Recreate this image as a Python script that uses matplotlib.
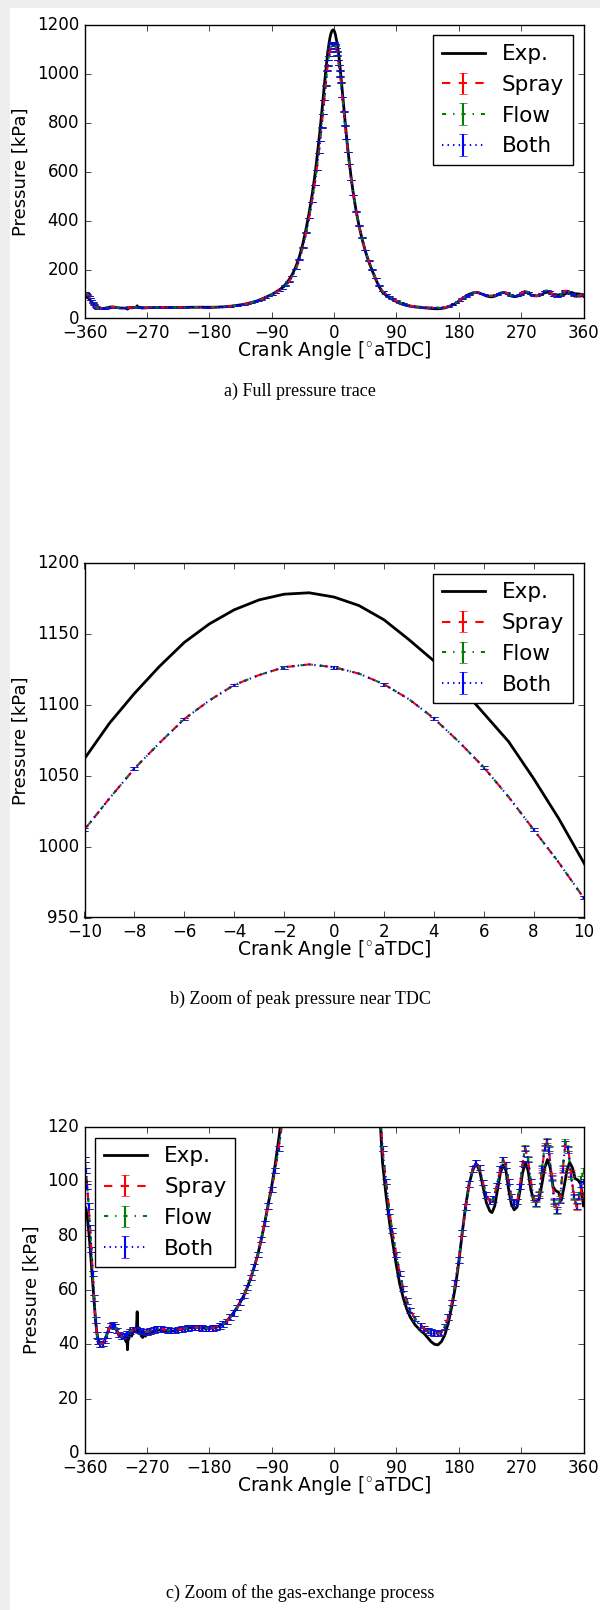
import matplotlib
matplotlib.use("Agg")
import matplotlib.pyplot as plt
from matplotlib.patches import Rectangle

# =========================
# DATA
# =========================
# simulation grid [deg aTDC]
angle_sim = [
    -360, -358, -356, -354, -352, -350, -348, -346, -344, -342, -340,
    -337, -334, -331, -328, -325, -322, -319, -316, -313, -310, -306, -302, -298, -294, -290,
    -285, -280, -275, -270, -265, -260, -255, -250, -245, -240, -235, -230, -225,
    -220, -215, -210, -205, -200, -195, -190, -185, -180, -175, -170, -165, -160,
    -155, -150, -145, -140, -135, -130, -125, -120, -115, -110, -105, -100,
    -95, -90, -85, -80, -75, -70, -65, -60, -55, -50, -45, -40,
    -36, -32, -28, -25, -22, -20, -18, -16, -14, -12,
    -10, -9, -8, -7, -6, -5, -4, -3, -2, -1, 0, 1, 2, 3, 4, 5, 6, 7, 8, 9, 10,
    12, 14, 16, 18, 20, 22, 25, 28, 32, 36, 40, 45, 50, 55, 60, 65, 70, 75,
    80, 84, 90, 95, 100, 105, 110, 117, 125, 130, 135, 140, 145, 150, 155,
    160, 165, 170, 175, 180, 185, 190, 195, 200, 205, 210, 215, 220, 225,
    230, 235, 240,
    244, 248, 252, 256, 260, 264, 268, 272, 276, 280, 284, 288, 292, 296, 300, 304,
    307, 310,
    314, 318, 322, 326, 330, 334, 338, 342, 346, 350, 354,
    357, 360,
]

# cylinder pressure [kPa]
p_spray = [
    108, 104, 98, 91, 83, 75, 66, 57, 49, 43.5, 41,
    40.2, 40.3, 41.5, 43.5, 45.5, 47, 47.3, 46.5, 45, 43.6, 42.8, 43.3, 44, 44.8, 45.4,
    45.5, 45.1, 44.7, 44.6, 44.9, 45.3, 45.6, 45.7, 45.5, 45.2, 45.0, 45.1, 45.4,
    45.7, 45.9, 46.0, 46.2, 46.3, 46.2, 46.0, 45.9, 45.9, 46.0, 46.3, 46.8, 47.5,
    48.5, 50, 51.6, 53.5, 55.6, 58, 61, 64.5, 68.5, 73, 78.5, 84.5,
    91, 97, 104, 112, 121, 134, 151, 173, 202, 240, 290, 352,
    410, 475, 545, 607, 675, 725, 780, 835, 893, 952,
    1012, 1034, 1055, 1073, 1090, 1103, 1114, 1121, 1126.5, 1128.5, 1126.5,
    1122, 1114.5, 1104, 1090.5, 1074, 1056, 1035, 1012, 989, 964,
    905, 846, 788, 733, 681, 632, 565, 505, 437, 380, 331, 279, 236, 200, 165, 134, 112, 100,
    89, 82, 73, 66, 60.5, 56, 52.5, 49.5, 47, 45.8, 45, 44.5, 44.1, 44, 44.4,
    46.5, 50, 55.5, 62.5, 71, 81, 90.5, 99, 104.5, 107, 105, 99.5, 95, 92.5,
    93.5, 98.5, 104.5,
    108, 106, 100, 94.5, 92, 92.5, 98, 106.5, 112, 108, 100, 94, 91.8, 95, 104, 112,
    114.5, 112,
    102, 93, 89.5, 93, 104, 114, 112, 103, 95, 90.5, 94,
    97, 95,
]

p_flow = [
    108, 104, 98, 91, 83, 75, 66, 57, 49, 43.5, 41,
    40.2, 40.3, 41.5, 43.5, 45.5, 47, 47.3, 46.5, 45, 43.6, 42.8, 43.3, 44, 44.8, 45.4,
    45.5, 45.1, 44.7, 44.6, 44.9, 45.3, 45.6, 45.7, 45.5, 45.2, 45.0, 45.1, 45.4,
    45.7, 45.9, 46.0, 46.2, 46.3, 46.2, 46.0, 45.9, 45.9, 46.0, 46.3, 46.8, 47.5,
    48.5, 50, 51.6, 53.5, 55.6, 58, 61, 64.5, 68.5, 73, 78.5, 84.5,
    91, 97, 104, 112, 121, 134, 151, 173, 202, 240, 290, 352,
    410, 475, 545, 607, 675, 725, 780, 835, 893, 952,
    1012, 1034, 1055, 1073, 1090, 1103, 1114, 1121, 1126.5, 1128.5, 1126.5,
    1122, 1114.5, 1104, 1090.5, 1074, 1056, 1035, 1012, 989, 964,
    905, 846, 788, 733, 681, 632, 565, 505, 437, 380, 331, 279, 236, 200, 165, 134, 112, 100,
    89, 82, 73, 66, 60.5, 56, 52.5, 49.5, 47, 45.8, 45, 44.5, 44.1, 44, 44.4,
    46.5, 50, 55.5, 62.5, 71, 81, 90.5, 99, 104.5, 107, 105, 99.5, 95, 92.5,
    93.5, 98.5, 104.5,
    108, 106, 100, 94.5, 92, 92.5, 98, 106.5, 112.5, 108.5, 100, 93.5, 91.5, 95.5, 105, 113,
    115, 112,
    101, 92, 89, 93.5, 105, 114.5, 112, 102, 94, 91, 95,
    101, 104,
]

p_both = [
    108, 104, 98, 91, 83, 75, 66, 57, 49, 43.5, 41,
    40.2, 40.3, 41.5, 43.5, 45.5, 47, 47.3, 46.5, 45, 43.6, 42.8, 43.3, 44, 44.8, 45.4,
    45.5, 45.1, 44.7, 44.6, 44.9, 45.3, 45.6, 45.7, 45.5, 45.2, 45.0, 45.1, 45.4,
    45.7, 45.9, 46.0, 46.2, 46.3, 46.2, 46.0, 45.9, 45.9, 46.0, 46.3, 46.8, 47.5,
    48.5, 50, 51.6, 53.5, 55.6, 58, 61, 64.5, 68.5, 73, 78.5, 84.5,
    91, 97, 104, 112, 121, 134, 151, 173, 202, 240, 290, 352,
    410, 475, 545, 607, 675, 725, 780, 835, 893, 952,
    1012, 1034, 1055, 1073, 1090, 1103, 1114, 1121, 1126.5, 1128.5, 1126.5,
    1122, 1114.5, 1104, 1090.5, 1074, 1056, 1035, 1012, 989, 964,
    905, 846, 788, 733, 681, 632, 565, 505, 437, 380, 331, 279, 236, 200, 165, 134, 112, 100,
    89, 82, 73, 66, 60.5, 56, 52.5, 49.5, 47, 45.8, 45, 44.5, 44.1, 44, 44.4,
    46.5, 50, 55.5, 62.5, 71, 81, 90.5, 99, 104.5, 107, 105, 99.5, 95, 92.5,
    93.5, 98.5, 104.5,
    108, 106, 100, 94.5, 92, 92.5, 98, 106.5, 112, 108, 100, 94, 92, 95, 104.5, 112.5,
    114.5, 111.5,
    101.5, 92.5, 89.5, 93, 104.5, 114, 111.5, 102.5, 94.5, 91, 94.5,
    99, 100,
]

err_spray = 1.0
err_flow = 1.0
err_both = 1.0

# experiment
angle_exp = [
    -360, -358, -356, -354, -352, -350, -348, -346, -344, -342, -340,
    -337, -334, -331, -328, -325, -322, -319, -316, -313, -310, -306, -302,
    -300, -299, -298, -297, -296, -294, -292, -290, -288, -286, -285, -284,
    -283, -282, -281, -280, -278, -277, -276, -274, -272, -270, -265,
    -260, -255, -250, -245, -240, -235, -230, -225, -220, -215, -210,
    -205, -200, -195, -190, -185, -180, -175, -170, -165, -160,
    -155, -150, -145, -140, -135, -130, -125, -120, -115, -110, -105, -100,
    -95, -90, -85, -80, -75, -70, -65, -60, -55, -50, -45, -40,
    -36, -32, -28, -25, -22, -20, -18, -16, -14, -12,
    -10, -9, -8, -7, -6, -5, -4, -3, -2, -1, 0, 1, 2, 3, 4, 5, 6, 7, 8, 9, 10,
    12, 14, 16, 18, 20, 22, 25, 28, 32, 36, 40, 45, 50, 55, 60, 65, 70, 75,
    80, 84, 90, 95, 100, 105, 110, 117, 125, 130, 135, 140, 145, 150, 155,
    160, 165, 170, 175, 180, 185, 190, 195, 200, 205, 210, 215, 220, 225,
    228, 232, 236, 240, 244, 248, 252, 256, 260, 264, 268, 272, 276, 280,
    284, 288, 292, 296, 300, 304, 308, 312, 316, 320, 324, 328, 332, 336,
    340, 344, 348, 352, 356, 360,
]

p_exp = [
    91, 90, 87, 82, 76, 69, 62, 55, 48.5, 44, 41.5,
    40.3, 40.4, 41.5, 43.5, 45.5, 47, 47.2, 46.3, 44.8, 43.2, 42.5, 42.8,
    41, 44, 38, 43.5, 42, 45.5, 43, 44.5, 45.5, 44.5, 46, 52,
    45, 44, 46, 45.5, 43, 44.5, 42.5, 44, 43, 44, 44.3,
    45, 45.3, 45.2, 45, 44.9, 44.8, 45, 45.3, 45.6, 45.8, 46,
    46.2, 46.3, 46.2, 46, 45.9, 45.9, 46, 46.3, 46.8, 47.5,
    48.5, 50, 51.6, 53.5, 55.6, 58, 61, 64.5, 68.5, 73, 78.5, 84.7,
    91.5, 98, 106, 115, 125, 139, 158, 181, 212, 252, 305, 370,
    430, 497, 575, 645, 720, 773, 830, 890, 950, 1008,
    1062, 1087, 1108, 1127, 1144, 1157, 1167, 1174, 1178, 1179, 1176,
    1170, 1160, 1146, 1131, 1114, 1094, 1074, 1048, 1020, 989,
    925, 862, 802, 745, 690, 640, 570, 508, 438, 380, 330, 277, 233, 196, 162, 130, 107, 95,
    85, 78.5, 69, 62, 57, 53, 50, 47.2, 45, 44, 42.5, 41, 40, 39.8, 41,
    43.5, 48, 54, 61, 70, 81, 91, 99, 104, 106.5, 104, 98, 92, 89,
    88.5, 91, 97, 103, 106, 104, 97, 91.5, 89.5, 90.5, 96, 103, 107, 104,
    97, 93, 92.5, 93.5, 99, 105, 108, 105, 98, 96.5, 96, 93, 98, 104,
    107, 105, 101, 100.5, 99, 91,
]

assert len(angle_sim) == len(p_spray) == len(p_flow) == len(p_both)
assert len(angle_exp) == len(p_exp)

# =========================
# STYLE
# =========================
plt.style.use("classic")
plt.rcParams["figure.facecolor"] = "#eeeeee"
plt.rcParams["savefig.facecolor"] = "#eeeeee"
plt.rcParams["font.family"] = ["DejaVu Sans"]

W, H = 600, 1610
fig = plt.figure(figsize=(W / 100, H / 100), dpi=100)
fig.add_artist(Rectangle((10 / W, 0), 1, 1 - 8 / H, transform=fig.transFigure,
                         facecolor="white", edgecolor="none", zorder=-10))


def panel(top, bottom):
    left, right = 84.5 / W, 583.5 / W
    return fig.add_axes([left, 1 - bottom / H, right - left, (bottom - top) / H])


def draw(ax, every):
    ax.plot(angle_exp, p_exp, "k-", lw=2, label="Exp.")
    ax.errorbar(angle_sim, p_spray, yerr=err_spray, fmt="r--", lw=1.5,
                capsize=3, errorevery=every, label="Spray")
    ax.errorbar(angle_sim, p_flow, yerr=err_flow, fmt="g-.", lw=1.5,
                capsize=3, errorevery=every, label="Flow")
    ax.errorbar(angle_sim, p_both, yerr=err_both, fmt="b:", lw=1.5,
                capsize=3, errorevery=every, label="Both")
    ax.set_xlabel(r"Crank Angle [$^{\circ}$aTDC]", fontsize=13.5, labelpad=-2)
    ax.set_ylabel("Pressure [kPa]", fontsize=13)


# a) full trace
ax1 = panel(24.7, 318.5)
draw(ax1, 1)
ax1.set_xlim(-360, 360)
ax1.set_ylim(0, 1200)
ax1.set_xticks(range(-360, 361, 90))
ax1.legend(loc="upper right", numpoints=1, fontsize=15.5)

# b) zoom on peak
ax2 = panel(563, 917.5)
draw(ax2, (angle_sim.index(-10) % 2, 2))
ax2.set_xlim(-10, 10)
ax2.set_ylim(950, 1200)
ax2.set_xticks(range(-10, 11, 2))
ax2.legend(loc="upper right", numpoints=1, fontsize=15.5)

# c) gas exchange
ax3 = panel(1127, 1453)
draw(ax3, 1)
ax3.set_xlim(-360, 360)
ax3.set_ylim(0, 120)
ax3.set_xticks(range(-360, 361, 90))
ax3.legend(loc="upper left", numpoints=1, fontsize=15.5)

# captions
cap = dict(ha="center", va="center", fontsize=13, family="Liberation Serif")
fig.text(300 / W, 1 - 391.5 / H, "a) Full pressure trace", **cap)
fig.text(300 / W, 1 - 999 / H, "b) Zoom of peak pressure near TDC", **cap)
fig.text(300 / W, 1 - 1593 / H, "c) Zoom of the gas-exchange process", **cap)

fig.savefig("out.png", dpi=100)
